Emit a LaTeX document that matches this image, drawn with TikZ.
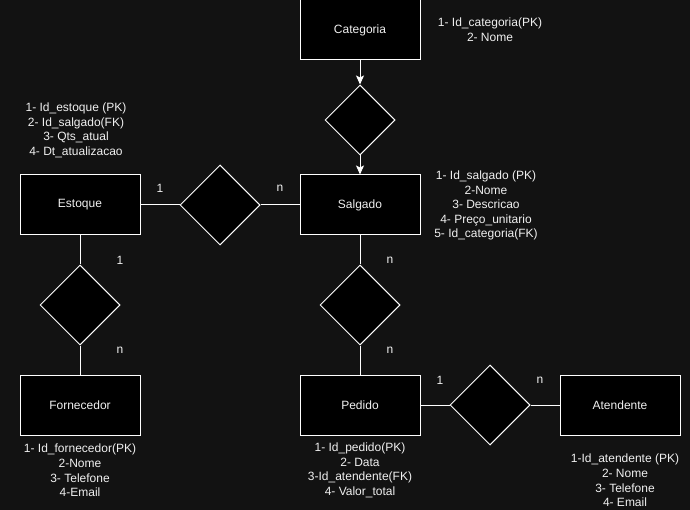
\documentclass[tikz,border=0pt]{standalone}
\usepackage{fontspec}
\setmainfont{Liberation Sans}
\usetikzlibrary{shapes.geometric,arrows.meta}
\definecolor{bg}{RGB}{18,18,18}
\definecolor{txt}{RGB}{240,240,240}
\begin{document}
\begin{tikzpicture}[x=1pt,y=-1pt,
  entity/.style={draw=white,fill=black,line width=1pt,minimum width=120pt,minimum height=60pt,inner sep=0pt,text=txt,font=\fontsize{12}{14.4}\selectfont},
  rel/.style={draw=white,fill=black,line width=1pt,diamond,inner sep=0pt,minimum width=80pt,minimum height=80pt},
  attr/.style={text=txt,align=center,inner sep=0pt,font=\fontsize{12}{14.6}\selectfont},
  card/.style={text=txt,inner sep=0pt,font=\fontsize{12}{14.4}\selectfont},
  conn/.style={draw=white,line width=1pt},
  arr/.style={conn,-{Stealth[length=9pt,width=8pt,inset=2pt]}}]
\fill[bg] (0,0) rectangle (690,510);
\useasboundingbox (0,0) rectangle (690,510);
% entities
\node[entity] (cat) at (360,30) {Categoria};
\node[entity] (sal) at (360,205) {Salgado};
\node[entity] (est) at (80,205) {Estoque};
\node[entity] (forn) at (80,405) {Fornecedor};
\node[entity] (ped) at (360,405) {Pedido};
\node[entity] (ate) at (620,405) {Atendente};
% relationships
\node[rel,minimum width=70pt,minimum height=70pt] (r1) at (360,120) {};
\node[rel] (r2) at (220,205) {};
\node[rel] (r3) at (80,305) {};
\node[rel] (r4) at (360,305) {};
\node[rel] (r5) at (490,405) {};
% connectors
\draw[arr] (cat.south) -- (r1.north);
\draw[arr] (r1.south) -- (sal.north);
\draw[conn] (est.east) -- (r2.west);
\draw[conn] (r2.east) -- (sal.west);
\draw[conn] (est.south) -- (r3.north);
\draw[conn] (r3.south) -- (forn.north);
\draw[conn] (sal.south) -- (r4.north);
\draw[conn] (r4.south) -- (ped.north);
\draw[conn] (ped.east) -- (r5.west);
\draw[conn] (r5.east) -- (ate.west);
% cardinalities
\node[card] (c1) at (160,188) {1};
\node[card] (c2) at (280,188) {n};
\node[card] (c3) at (120,260) {1};
\node[card] (c4) at (120,350) {n};
\node[card] (c5) at (390,260) {n};
\node[card] (c6) at (390,350) {n};
\node[card] (c7) at (440,380) {1};
\node[card] (c8) at (540,380) {n};
% attributes
\node[attr] (acat) at (490,29.5) {1- Id\_categoria(PK)\\2- Nome};
\node[attr] (aest) at (76,130.5) {1- Id\_estoque (PK)\\2- Id\_salgado(FK)\\3- Qts\_atual\\4- Dt\_atualizacao};
\node[attr] (asal) at (486,205.5) {1- Id\_salgado (PK)\\2-Nome\\3- Descricao\\4- Preço\_unitario\\5- Id\_categoria(FK)};
\node[attr] (aforn) at (80,470.5) {1- Id\_fornecedor(PK)\\2-Nome\\3- Telefone\\4-Email};
\node[attr] (aped) at (360,470.5) {1- Id\_pedido(PK)\\2- Data\\3-Id\_atendente(FK)\\4- Valor\_total};
\node[attr] (aate) at (625,480.5) {1-Id\_atendente (PK)\\2- Nome\\3- Telefone\\4- Email};
\end{tikzpicture}
\end{document}
